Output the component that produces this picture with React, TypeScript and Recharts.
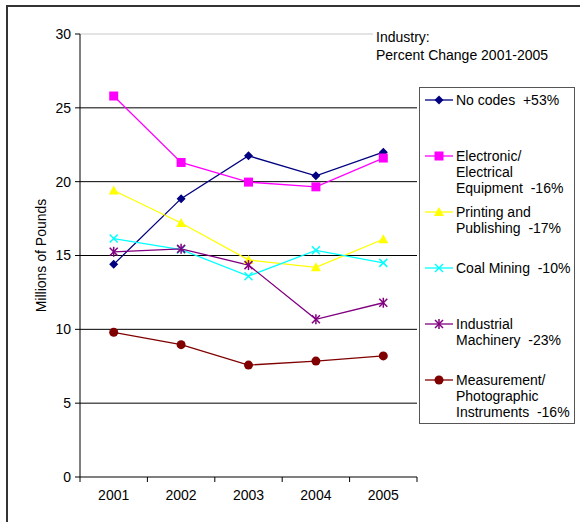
import React from 'react';
import { LineChart, Line, XAxis, YAxis, Legend, ReferenceLine } from 'recharts';

const years = ['2001', '2002', '2003', '2004', '2005'];
const noCodes = [14.4, 18.85, 21.75, 20.4, 22.0];
const electronic = [25.8, 21.3, 19.97, 19.65, 21.6];
const printing = [19.4, 17.2, 14.7, 14.2, 16.1];
const coal = [16.15, 15.4, 13.6, 15.35, 14.5];
const machinery = [15.25, 15.45, 14.35, 10.68, 11.8];
const measurement = [9.8, 8.96, 7.58, 7.85, 8.2];

const yTicks = [0, 5, 10, 15, 20, 25, 30];
const gridValues = [5, 10, 15, 20, 25];
const bandEdges = [0.5, 1.5, 2.5, 3.5, 4.5, 5.5];
const yearPositions = [1, 2, 3, 4, 5];

const series = [
  { key: 'noCodes', values: noCodes, color: '#000080', shape: 'diamond', label: ['No codes  +53%'] },
  { key: 'electronic', values: electronic, color: '#FF00FF', shape: 'square', label: ['Electronic/', 'Electrical', 'Equipment  -16%'] },
  { key: 'printing', values: printing, color: '#FFFF00', shape: 'triangle', label: ['Printing and', 'Publishing  -17%'] },
  { key: 'coal', values: coal, color: '#00FFFF', shape: 'x', label: ['Coal Mining  -10%'] },
  { key: 'machinery', values: machinery, color: '#800080', shape: 'star', label: ['Industrial', 'Machinery  -23%'] },
  { key: 'measurement', values: measurement, color: '#800000', shape: 'circle', label: ['Measurement/', 'Photographic', 'Instruments  -16%'] },
];

const data = years.map((y, i) => {
  const row: any = { idx: i + 1, year: y };
  series.forEach((s) => {
    row[s.key] = s.values[i];
  });
  return row;
});

const FONT = '"Liberation Sans", Arial, sans-serif';
const FS = 14;

function Marker({ shape, color, cx, cy }: { shape: string; color: string; cx: number; cy: number }) {
  switch (shape) {
    case 'diamond':
      return <polygon points={`${cx},${cy - 4.5} ${cx + 4.5},${cy} ${cx},${cy + 4.5} ${cx - 4.5},${cy}`} fill={color} />;
    case 'square':
      return <rect x={cx - 4.5} y={cy - 4.5} width={9} height={9} fill={color} />;
    case 'triangle':
      return <polygon points={`${cx},${cy - 5} ${cx + 5},${cy + 4} ${cx - 5},${cy + 4}`} fill={color} />;
    case 'x':
      return (
        <g stroke={color} strokeWidth={1.5}>
          <line x1={cx - 4} y1={cy - 4} x2={cx + 4} y2={cy + 4} />
          <line x1={cx - 4} y1={cy + 4} x2={cx + 4} y2={cy - 4} />
        </g>
      );
    case 'star':
      return (
        <g stroke={color} strokeWidth={1.5}>
          <line x1={cx - 4} y1={cy - 4} x2={cx + 4} y2={cy + 4} />
          <line x1={cx - 4} y1={cy + 4} x2={cx + 4} y2={cy - 4} />
          <line x1={cx} y1={cy - 5} x2={cx} y2={cy + 5} />
        </g>
      );
    default:
      return <circle cx={cx} cy={cy} r={4.5} fill={color} />;
  }
}

const renderDot = (shape: string, color: string) => (props: any) => (
  <g key={`dot-${shape}-${props.index}`}>
    <Marker shape={shape} color={color} cx={props.cx} cy={props.cy} />
  </g>
);

const renderLegend = () => (
  <div
    style={{
      width: 156,
      height: 337,
      boxSizing: 'border-box',
      border: '1px solid #555',
      background: '#fff',
      fontFamily: FONT,
      fontSize: FS,
      lineHeight: '16px',
      color: '#000',
      paddingTop: 4,
    }}
  >
    {series.map((s) => (
      <div key={s.key} style={{ display: 'flex', height: 56 }}>
        <svg width={36} height={16} style={{ flex: 'none' }}>
          <line x1={5} y1={8} x2={33} y2={8} stroke={s.color} strokeWidth={1.3} />
          <Marker shape={s.shape} color={s.color} cx={19} cy={8} />
        </svg>
        <div style={{ whiteSpace: 'pre' }}>
          {s.label.map((t) => (
            <div key={t}>{t}</div>
          ))}
        </div>
      </div>
    ))}
  </div>
);

export default function App() {
  return (
    <div style={{ position: 'absolute', left: 0, top: 0, width: 580, height: 522, overflow: 'hidden', background: '#fff' }}>
      <div
        style={{
          position: 'absolute',
          left: 6,
          top: 5,
          width: 640,
          height: 640,
          border: '2px solid #333',
        }}
      />
      <div style={{ position: 'absolute', left: 0, top: 0 }}>
        <LineChart width={580} height={522} data={data} margin={{ top: 34, right: 163, bottom: 14, left: 0 }}>
          <XAxis
            dataKey="idx"
            type="number"
            domain={[0.5, 5.5]}
            ticks={bandEdges}
            interval={0}
            height={1}
            tickSize={5}
            tickFormatter={() => ''}
            axisLine={{ stroke: '#000' }}
            tickLine={{ stroke: '#000' }}
          />
          <XAxis
            xAxisId="lbl"
            dataKey="idx"
            type="number"
            domain={[0.5, 5.5]}
            ticks={yearPositions}
            interval={0}
            height={30}
            tickSize={0}
            tickMargin={12}
            axisLine={false}
            tickLine={false}
            tickFormatter={(v: number) => years[v - 1]}
            tick={{ fill: '#000', fontSize: FS, fontFamily: FONT }}
          />
          <YAxis
            domain={[0, 30]}
            ticks={yTicks}
            interval={0}
            width={80}
            tickSize={5}
            tickMargin={4}
            axisLine={{ stroke: '#000' }}
            tickLine={{ stroke: '#000' }}
            tick={{ fill: '#000', fontSize: FS, fontFamily: FONT }}
            label={{
              value: 'Millions of Pounds',
              angle: -90,
              position: 'insideLeft',
              offset: 41,
              style: { textAnchor: 'middle', fill: '#000', fontSize: FS, fontFamily: FONT },
            }}
          />
          <ReferenceLine y={30} stroke="#c8c8c8" />
          {gridValues.map((v) => (
            <ReferenceLine key={v} y={v} stroke="#000" />
          ))}
          {series.map((s) => (
            <Line
              key={s.key}
              dataKey={s.key}
              stroke={s.color}
              strokeWidth={1.3}
              isAnimationActive={false}
              dot={renderDot(s.shape, s.color)}
              activeDot={false}
            />
          ))}
          <Legend
            layout="vertical"
            align="center"
            verticalAlign="middle"
            content={renderLegend}
            wrapperStyle={{ left: 419, top: 87, width: 156, height: 337 }}
          />
        </LineChart>
      </div>
      <div
        style={{
          position: 'absolute',
          left: 373,
          top: 28,
          width: 200,
          paddingLeft: 3,
          background: '#fff',
          fontFamily: FONT,
          fontSize: FS,
          lineHeight: '18px',
          color: '#000',
        }}
      >
        <div>Industry:</div>
        <div>Percent Change 2001-2005</div>
      </div>
    </div>
  );
}
